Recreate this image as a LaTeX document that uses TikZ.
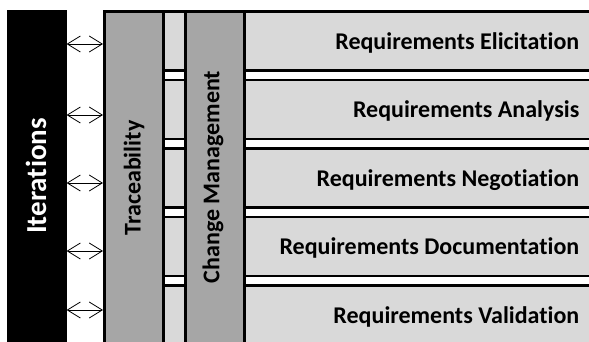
\documentclass[tikz,border=0pt]{standalone}
\usepackage{fontspec}
\setmainfont[Ligatures=NoCommon]{Carlito}
\usetikzlibrary{arrows.meta}

\begin{document}
\begin{tikzpicture}[x=1pt, y=-1pt, line width=2.6pt,
        stage/.style = {draw, fill=black!15, rectangle, minimum width=497pt, minimum height=59pt, anchor=north west, inner sep=0pt},
        column/.style = {draw, fill=black!35, rectangle, minimum width=59pt, minimum height=345pt, anchor=north west, inner sep=0pt},
        lbl/.style = {font=\bfseries\fontsize{24}{28}\selectfont, anchor=east, inner sep=0pt},
        vlbl/.style = {font=\bfseries\fontsize{24}{28}\selectfont, rotate=90, inner sep=0pt},
        both/.style = {{Straight Barb[length=13pt, width=16pt]}-{Straight Barb[length=13pt, width=16pt]}, line width=0.8pt}]
        \clip (0,0) rectangle (589,341);
        \node[stage] (r1) at (103,10) {};
        \node[stage] (r2) at (103,78.5) {};
        \node[stage] (r3) at (103,147) {};
        \node[stage] (r4) at (103,215.5) {};
        \node[stage] (r5) at (103,284) {};
        \node[column] (trace) at (103,10) {};
        \node[column] (change) at (184,10) {};
        \node[draw, fill=black, rectangle, minimum width=57pt, minimum height=345pt, anchor=north west, inner sep=0pt] (iter) at (7,10) {};
        \node[vlbl] (tracelbl) at (134,178) {Traceability};
        \node[vlbl] (changelbl) at (213,177) {Change Management};
        \node[vlbl, text=white, font=\bfseries\fontsize{29}{34}\selectfont] (iterlbl) at (36,176) {Iterations};
        \node[lbl] (l1) at ([xshift=-22pt, yshift=-2pt]r1.east) {Requirements Elicitation};
        \node[lbl] (l2) at ([xshift=-22pt, yshift=-2pt]r2.east) {Requirements Analysis};
        \node[lbl] (l3) at ([xshift=-22pt, yshift=-2pt]r3.east) {Requirements Negotiation};
        \node[lbl] (l4) at ([xshift=-22pt, yshift=-2pt]r4.east) {Requirements Documentation};
        \node[lbl] (l5) at ([xshift=-22pt, yshift=-2pt]r5.east) {Requirements Validation};
        \draw[both] (iter.east |- 0,44) -- (trace.west |- 0,44);
        \draw[both] (iter.east |- 0,115) -- (trace.west |- 0,115);
        \draw[both] (iter.east |- 0,183) -- (trace.west |- 0,183);
        \draw[both] (iter.east |- 0,251) -- (trace.west |- 0,251);
        \draw[both] (iter.east |- 0,310) -- (trace.west |- 0,310);
    \end{tikzpicture}
\end{document}
